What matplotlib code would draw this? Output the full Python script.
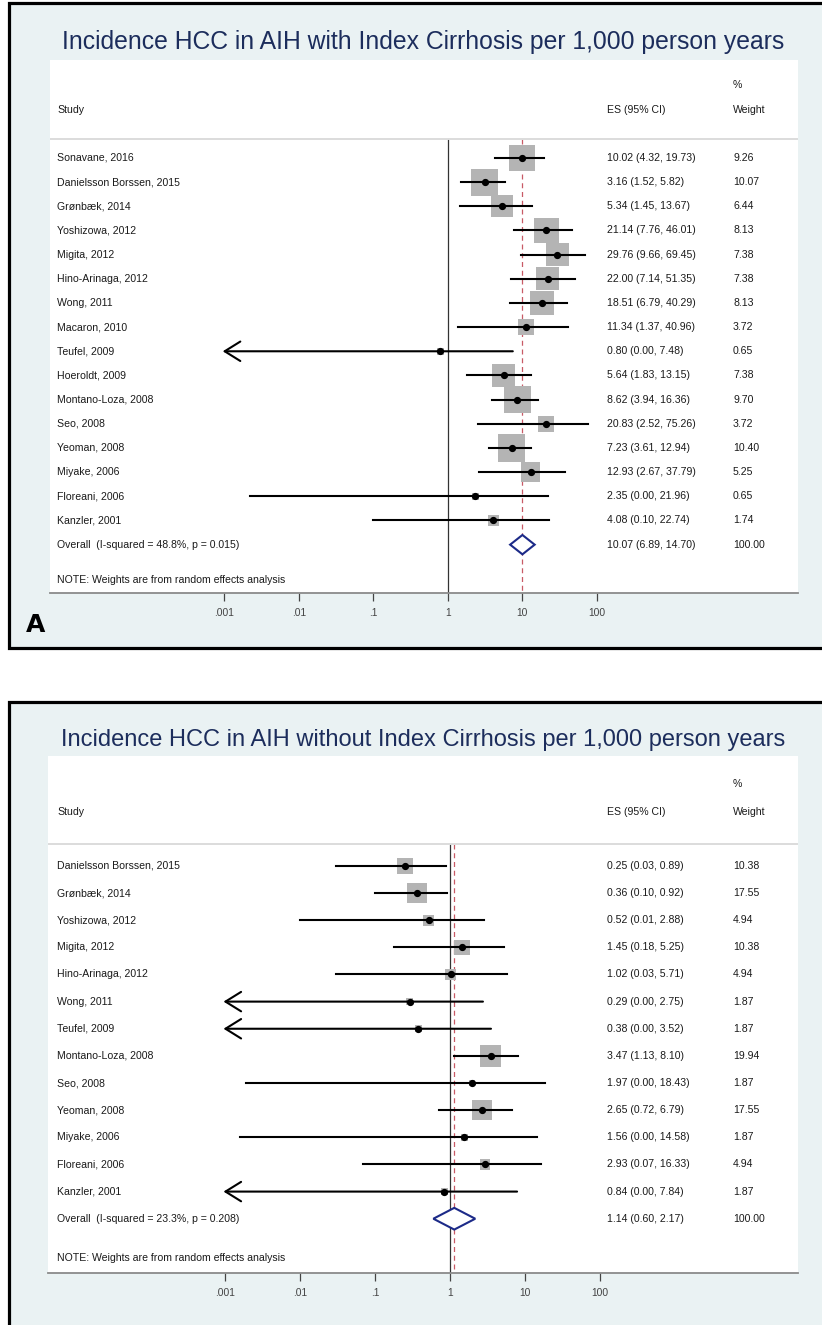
import numpy as np
import matplotlib
matplotlib.use("Agg")
import matplotlib.pyplot as plt
from matplotlib.patches import Rectangle, Polygon

plt.rcParams['font.family'] = ['Liberation Sans', 'DejaVu Sans']

#================================== data: with index cirrhosis ==================================#
studies_a = ["Sonavane, 2016", "Danielsson Borssen, 2015", "Grønbæk, 2014", "Yoshizowa, 2012",
             "Migita, 2012", "Hino-Arinaga, 2012", "Wong, 2011", "Macaron, 2010", "Teufel, 2009",
             "Hoeroldt, 2009", "Montano-Loza, 2008", "Seo, 2008", "Yeoman, 2008", "Miyake, 2006",
             "Floreani, 2006", "Kanzler, 2001"]
es_a = [10.02, 3.16, 5.34, 21.14, 29.76, 22.00, 18.51, 11.34, 0.80, 5.64, 8.62, 20.83, 7.23, 12.93, 2.35, 4.08]
lo_a = [4.32, 1.52, 1.45, 7.76, 9.66, 7.14, 6.79, 1.37, 0.0, 1.83, 3.94, 2.52, 3.61, 2.67, 0.0022, 0.10]
hi_a = [19.73, 5.82, 13.67, 46.01, 69.45, 51.35, 40.29, 40.96, 7.48, 13.15, 16.36, 75.26, 12.94, 37.79, 21.96, 22.74]
w_a = [9.26, 10.07, 6.44, 8.13, 7.38, 7.38, 8.13, 3.72, 0.65, 7.38, 9.70, 3.72, 10.40, 5.25, 0.65, 1.74]
overall_a = (10.07, 6.89, 14.70)
het_a = "Overall  (I-squared = 48.8%, p = 0.015)"
title_a = "Incidence HCC in AIH with Index Cirrhosis per 1,000 person years"

#================================== data: without index cirrhosis ==================================#
studies_b = ["Danielsson Borssen, 2015", "Grønbæk, 2014", "Yoshizowa, 2012", "Migita, 2012",
             "Hino-Arinaga, 2012", "Wong, 2011", "Teufel, 2009", "Montano-Loza, 2008", "Seo, 2008",
             "Yeoman, 2008", "Miyake, 2006", "Floreani, 2006", "Kanzler, 2001"]
es_b = [0.25, 0.36, 0.52, 1.45, 1.02, 0.29, 0.38, 3.47, 1.97, 2.65, 1.56, 2.93, 0.84]
lo_b = [0.03, 0.10, 0.01, 0.18, 0.03, 0.0, 0.0, 1.13, 0.0019, 0.72, 0.0016, 0.07, 0.0]
hi_b = [0.89, 0.92, 2.88, 5.25, 5.71, 2.75, 3.52, 8.10, 18.43, 6.79, 14.58, 16.33, 7.84]
w_b = [10.38, 17.55, 4.94, 10.38, 4.94, 1.87, 1.87, 19.94, 1.87, 17.55, 1.87, 4.94, 1.87]
overall_b = (1.14, 0.60, 2.17)
het_b = "Overall  (I-squared = 23.3%, p = 0.208)"
title_b = "Incidence HCC in AIH without Index Cirrhosis per 1,000 person years"

ticks = [0.001, 0.01, 0.1, 1, 10, 100]
tick_labels = ['.001', '.01', '.1', '1', '10', '100']

W, H = 822, 1325
BG = '#eaf2f3'
TXT = '#1a1a1a'
NAVY_T = '#1c2d5c'
NAVY_D = '#1c2a88'

fig = plt.figure(figsize=(W / 100, H / 100), dpi=100)


def box(x0, y0, x1, y1):
    # pixel rect -> figure fraction
    return [x0 / W, 1 - y1 / H, (x1 - x0) / W, (y1 - y0) / H]


def panel(rect_px, frame_px, title, title_y, title_fs, studies, es, lo, hi, w, overall, het, k_px, x1_px, ppd):
    # outer grey-blue frame
    fx = box(*frame_px)
    fig.patches.append(Rectangle((fx[0], fx[1]), fx[2], fx[3], transform=fig.transFigure,
                                 facecolor=BG, edgecolor='black', lw=2.3, zorder=-5))
    fig.text(423 / W, 1 - title_y / H, title, ha='center', va='center', fontsize=title_fs, color=NAVY_T)

    ax = fig.add_axes(box(*rect_px))
    ax.set_zorder(2)
    ax.set_facecolor('white')
    n = len(studies)
    ax.set_xscale('log')
    left = 10 ** ((rect_px[0] - x1_px) / ppd)
    right = 10 ** ((rect_px[2] - x1_px) / ppd)
    ax.set_xlim(left, right)
    ax.set_ylim(n + 2.0, -4.05)
    for s in ['top', 'left', 'right']:
        ax.spines[s].set_visible(False)
    ax.spines['bottom'].set_color('#8a8a8a')
    ax.spines['bottom'].set_linewidth(1.3)
    ax.set_yticks([])
    ax.set_xticks(ticks)
    ax.set_xticklabels(tick_labels)
    ax.minorticks_off()
    ax.tick_params(axis='x', direction='out', length=6, width=0.9, colors='#444444',
                   labelsize=7.4, pad=4.5)

    sep = -0.8
    ax.axhline(sep, color='#dcdcdc', lw=1.4)
    ax.plot([1, 1], [sep, n + 2.0], color='#333333', lw=0.9, zorder=1)
    ax.plot([overall[0], overall[0]], [sep, n + 2.0], color='#c85a66', lw=0.9,
            dashes=(4, 3), zorder=1)

    tr = ax.get_yaxis_transform()
    xs, xe, xw = (57 - rect_px[0]) / (rect_px[2] - rect_px[0]), \
        (607 - rect_px[0]) / (rect_px[2] - rect_px[0]), \
        (733 - rect_px[0]) / (rect_px[2] - rect_px[0])
    fs = 7.6
    ax.text(xw, -3, '%', transform=tr, fontsize=fs, va='center', color=TXT)
    ax.text(xs, -2, 'Study', transform=tr, fontsize=fs, va='center', color=TXT)
    ax.text(xe, -2, 'ES (95% CI)', transform=tr, fontsize=fs, va='center', color=TXT)
    ax.text(xw, -2, 'Weight', transform=tr, fontsize=fs, va='center', color=TXT)

    arrow_tip = 10 ** -3.02
    for i in range(n):
        side_pt = k_px * np.sqrt(w[i]) * 0.72
        ax.scatter([es[i]], [i], marker='s', s=side_pt ** 2, color='#b4b4b4', edgecolors='none', zorder=2)
        if lo[i] < 0.001:
            ax.annotate('', xy=(arrow_tip, i), xytext=(hi[i], i),
                        arrowprops=dict(arrowstyle='->,head_length=0.45,head_width=0.28',
                                        lw=1.5, color='black', shrinkA=0, shrinkB=0,
                                        mutation_scale=25), zorder=3)
        else:
            ax.plot([lo[i], hi[i]], [i, i], color='black', lw=1.5, zorder=3)
        ax.plot([es[i]], [i], 'o', color='black', ms=4.2, zorder=4)
        ax.text(xs, i, studies[i], transform=tr, fontsize=fs, va='center', color=TXT)
        ax.text(xe, i, f"{es[i]:.2f} ({lo[i]:.2f}, {hi[i]:.2f})", transform=tr, fontsize=fs,
                va='center', color=TXT)
        ax.text(xw, i, f"{w[i]:.2f}", transform=tr, fontsize=fs, va='center', color=TXT)

    # overall diamond
    e0, l0, h0 = overall
    ax.add_patch(Polygon([(l0, n), (e0, n - 0.4), (h0, n), (e0, n + 0.4)], closed=True,
                         facecolor='white', edgecolor=NAVY_D, lw=1.5, zorder=4))
    ax.text(xs, n, het, transform=tr, fontsize=fs, va='center', color=TXT)
    ax.text(xe, n, f"{e0:.2f} ({l0:.2f}, {h0:.2f})", transform=tr, fontsize=fs, va='center', color=TXT)
    ax.text(xw, n, "100.00", transform=tr, fontsize=fs, va='center', color=TXT)
    ax.text(xs, n + 1.45, "NOTE: Weights are from random effects analysis", transform=tr,
            fontsize=fs, va='center', color=TXT)
    return ax


panel((50, 60, 798, 593), (9, 3, 840, 648), title_a, 42, 17.8, studies_a, es_a, lo_a, hi_a, w_a,
      overall_a, het_a, 8.5, 447.7, 74.5)
panel((48, 756, 798, 1273), (9, 702, 840, 1345), title_b, 740, 17.0, studies_b, es_b, lo_b, hi_b, w_b,
      overall_b, het_b, 4.8, 450.0, 75.0)

fig.text(35.5 / W, 1 - 625 / H, 'A', ha='center', va='center', fontsize=18, fontweight='bold',
         color='black', family=['DejaVu Sans'])

fig.savefig('out.png', dpi=100, facecolor='white')
